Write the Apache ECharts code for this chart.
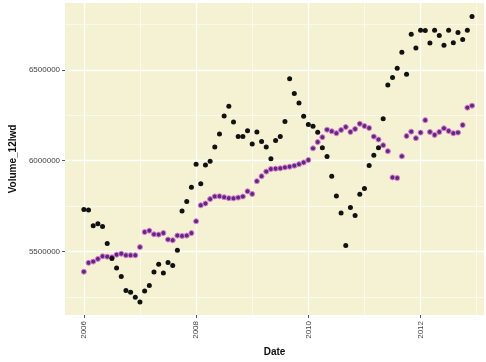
<!DOCTYPE html>
<html>
<head>
<meta charset="utf-8">
<script src="https://cdn.jsdelivr.net/npm/echarts@6/dist/echarts.min.js"></script>
<style>html,body{margin:0;padding:0;background:#fff}#c{width:486px;height:362px}</style>
</head>
<body>
<div id="c"></div>
<script>
// Monthly observations, Jan 2006 .. Dec 2012
const startYear = 2006;
const volumeActual = [
  5731600,5728300,5641500,5652400,5637700,5543900,5461500,5408400,5361200,5285200,5274400,5247300,
  5221800,5281500,5312400,5386700,5430000,5381200,5438700,5422500,5506000,5722900,5774900,5853600,
  5981000,5872600,5975600,5997300,6075400,6147500,6246700,6299300,6212600,6132900,6132900,6165400,
  6091600,6158400,6105700,6075400,6010300,6111200,6132900,6216400,6451200,6369800,6317200,6245100,
  6199000,6189300,6156700,6071600,6022800,5914300,5805900,5712000,5533100,5741900,5698500,5815600,
  5846500,5974000,6029800,6071600,6230500,6417000,6458200,6509200,6597600,6476700,6696900,6620900,
  6718500,6716900,6648000,6718500,6689800,6635600,6718500,6650200,6706100,6668100,6718500,6794500
];
const volumeFitted = [
  5388300,5437100,5444100,5458800,5473400,5471300,5468000,5482100,5487500,5478800,5478800,5478800,
  5523900,5606800,5614400,5594400,5592700,5601400,5565600,5561800,5587300,5585200,5587300,5600900,
  5666500,5754300,5764100,5788500,5803100,5804200,5798800,5793400,5792300,5796600,5802600,5831300,
  5816700,5887200,5914300,5939800,5953900,5956100,5957700,5963100,5966900,5972300,5981000,5990200,
  6003800,6067800,6102500,6129600,6170800,6162100,6151300,6169200,6185500,6158400,6174600,6203400,
  6190900,6180000,6132900,6116600,6085100,6052600,5907800,5904600,6024400,6135600,6160000,6124200,
  6154600,6223400,6158400,6142100,6158400,6178400,6163800,6151300,6154600,6196300,6292300,6303100
];
const xTickLabels = [2006, 2008, 2010, 2012];
const xMinorGrid = [2007, 2009, 2011, 2013];
const yTickLabels = [5500000, 6000000, 6500000];
const yMinorGrid = [5250000, 5750000, 6250000, 6750000];

const dates = volumeActual.map((v, i) => startYear + i / 12);
const actualPts = volumeActual.map((v, i) => [dates[i], v]);
const fittedPts = volumeFitted.map((v, i) => [dates[i], v]);

const gridLines = []
  .concat(xTickLabels.map(v => ({xAxis: v, lineStyle: {width: 1.3}})))
  .concat(xMinorGrid.map(v => ({xAxis: v, lineStyle: {width: 0.6}})))
  .concat(yTickLabels.map(v => ({yAxis: v, lineStyle: {width: 1.3}})))
  .concat(yMinorGrid.map(v => ({yAxis: v, lineStyle: {width: 0.6}})));

const chart = echarts.init(document.getElementById('c'), null, {renderer: 'canvas'});
chart.setOption({
  animation: false,
  grid: {left: 60, right: 2, top: 3, bottom: 42, show: true, backgroundColor: '#f4f2d3', borderWidth: 0},
  xAxis: {
    type: 'value', min: 2005.665, max: 2013.13,
    name: 'Date', nameLocation: 'middle', nameGap: 32,
    nameTextStyle: {fontFamily: 'Liberation Sans', fontWeight: 'bold', fontSize: 10, color: '#111'},
    axisLine: {show: false},
    axisTick: {show: true, customValues: xTickLabels, length: 3, lineStyle: {color: '#555', width: 1}},
    axisLabel: {customValues: xTickLabels, rotate: 90, fontSize: 8, color: '#444', margin: 6,
      fontFamily: 'Liberation Sans Narrow, Liberation Sans', formatter: v => String(v)},
    splitLine: {show: false}
  },
  yAxis: {
    type: 'value', min: 5149700, max: 6868800,
    name: 'Volume_12lwd', nameLocation: 'middle', nameGap: 46, nameRotate: 90,
    nameTextStyle: {fontFamily: 'Liberation Sans', fontWeight: 'bold', fontSize: 10, color: '#111'},
    axisLine: {show: false},
    axisTick: {show: true, customValues: yTickLabels, length: 3, lineStyle: {color: '#555', width: 1}},
    axisLabel: {customValues: yTickLabels, fontSize: 8, color: '#444', margin: 5,
      fontFamily: 'Liberation Sans Narrow, Liberation Sans', formatter: v => String(v)},
    splitLine: {show: false}
  },
  series: [
    {
      type: 'scatter', data: [], z: 1, silent: true,
      markLine: {
        silent: true, z: 1, symbol: 'none', label: {show: false}, animation: false,
        lineStyle: {color: '#ffffff', type: 'solid', opacity: 0.9},
        emphasis: {disabled: true},
        data: gridLines
      }
    },
    {
      type: 'scatter', data: fittedPts, z: 3, symbolSize: 5,
      itemStyle: {color: '#5b2a82', borderColor: '#e27ad0', borderWidth: 1, opacity: 1}
    },
    {
      type: 'scatter', data: actualPts, z: 4, symbolSize: 5,
      itemStyle: {color: '#111111', opacity: 1}
    }
  ]
});
</script>
</body>
</html>
